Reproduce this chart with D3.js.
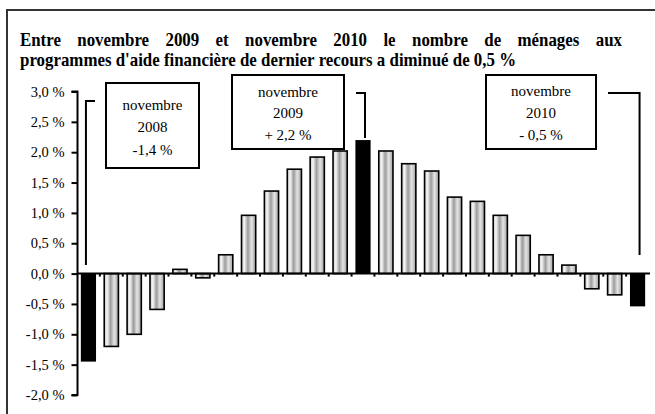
<!DOCTYPE html>
<html>
<head>
<meta charset="utf-8">
<script src="https://cdn.jsdelivr.net/npm/d3@7"></script>
<style>
  body { margin: 0; background: #fff; }
  svg { display: block; }
  svg text { font-family: "Liberation Serif", "Times New Roman", Times, "DejaVu Serif", serif !important; fill: #000; }
</style>
</head>
<body>
<svg id="chart" width="655" height="414" font-family="Liberation Serif, DejaVu Serif, serif"></svg>
<script>
// data
const months = ["nov. 2008", "déc. 2008", "janv. 2009", "févr. 2009", "mars 2009", "avr. 2009",
  "mai 2009", "juin 2009", "juil. 2009", "août 2009", "sept. 2009", "oct. 2009", "nov. 2009",
  "déc. 2009", "janv. 2010", "févr. 2010", "mars 2010", "avr. 2010", "mai 2010", "juin 2010",
  "juil. 2010", "août 2010", "sept. 2010", "oct. 2010", "nov. 2010"];
const values = [-1.45, -1.2, -1.0, -0.59, 0.07, -0.07, 0.31, 0.96, 1.36, 1.72, 1.92, 2.02, 2.2,
  2.02, 1.81, 1.69, 1.26, 1.19, 0.96, 0.63, 0.31, 0.14, -0.25, -0.35, -0.54];
const highlighted = ["nov. 2008", "nov. 2009", "nov. 2010"];
const yTicks = [-2, -1.5, -1, -0.5, 0, 0.5, 1, 1.5, 2, 2.5, 3];
const titleLines = ["Entre novembre 2009 et novembre 2010 le nombre de ménages aux",
  "programmes d'aide financière de dernier recours a diminué de 0,5 %"];
const noteMonths = ["nov. 2008", "nov. 2009", "nov. 2010"];
const noteTexts = [["novembre", "2008", "-1,4 %"], ["novembre", "2009", "+ 2,2 %"], ["novembre", "2010", "- 0,5 %"]];

const svg = d3.select("#chart");

// frame (cut off at right / bottom like the source)
svg.append("rect").attr("x", 7).attr("y", 10).attr("width", 700).attr("height", 450)
  .attr("fill", "none").attr("stroke", "#333").attr("stroke-width", 2);

const x = d3.scaleBand().domain(months).range([77, 649]).paddingInner(0.38).paddingOuter(0.19);
const y = d3.scaleLinear().domain([-2, 3]).range([395, 91.5]);

// gradient for the grey bars
const grad = svg.append("defs").append("linearGradient").attr("id", "cyl")
  .attr("x1", "0%").attr("x2", "100%").attr("y1", "0%").attr("y2", "0%");
[[0, "#c4c4c4"], [0.2, "#f6f6f6"], [0.45, "#9c9c9c"], [0.7, "#e4e4e4"], [1, "#a0a0a0"]]
  .forEach(s => grad.append("stop").attr("offset", s[0]).attr("stop-color", s[1]));

// title, justified
const TS = 19;
function fitWords(str, x0, x1, baseline, k, justify) {
  const words = str.split(" ");
  const tmp = svg.append("g").attr("font-weight", "bold").attr("font-size", TS);
  const w = words.map(wd => {
    const t = tmp.append("text").text(wd);
    const l = t.node().getComputedTextLength();
    t.remove();
    return l;
  });
  const sp = tmp.append("text").text("a a").node().getComputedTextLength() -
    tmp.append("text").text("aa").node().getComputedTextLength();
  tmp.remove();
  const total = d3.sum(w);
  if (k == null) k = (x1 - x0) / (total + sp * (words.length - 1));
  const gap = justify ? ((x1 - x0) - total * k) / (words.length - 1) : sp * k;
  let cx = x0;
  const g = svg.append("g").attr("font-weight", "bold").attr("font-size", TS);
  words.forEach((wd, i) => {
    g.append("text").attr("x", cx).attr("y", baseline).text(wd)
      .attr("textLength", w[i] * k).attr("lengthAdjust", "spacingAndGlyphs");
    cx += w[i] * k + gap;
  });
  return k;
}
const k = fitWords(titleLines[1], 20, 516, 66, null, false);
fitWords(titleLines[0], 20, 622, 46, k, true);

// y axis
const yAxis = svg.append("g").attr("transform", "translate(77.5,0)")
  .call(d3.axisLeft(y).tickValues(yTicks).tickSize(6).tickPadding(7)
    .tickFormat(d => d3.format(".1f")(d).replace(".", ",").replace("−", "-") + " %"));
yAxis.attr("font-family", null);
yAxis.selectAll("path, line").attr("stroke", "#000").attr("stroke-width", 2);
yAxis.select("path").attr("d", `M-6,${y(3)}H0V${y(-2)}H-6`);
yAxis.selectAll("text").attr("font-size", 14.5);

// bars
svg.append("g").selectAll("rect").data(months).join("rect")
  .attr("x", d => x(d) + (highlighted.includes(d) ? -0.5 : 0))
  .attr("width", d => x.bandwidth() + (highlighted.includes(d) ? 1 : 0))
  .attr("y", (d, i) => y(Math.max(0, values[i])))
  .attr("height", (d, i) => Math.abs(y(values[i]) - y(0)))
  .attr("fill", d => highlighted.includes(d) ? "#000" : "url(#cyl)")
  .attr("stroke", "#000").attr("stroke-width", d => highlighted.includes(d) ? 0 : 1.6);

// x axis at zero with small ticks between the bars
svg.append("line").attr("x1", 77).attr("x2", 650).attr("y1", y(0)).attr("y2", y(0))
  .attr("stroke", "#000").attr("stroke-width", 2);
svg.append("g").selectAll("line").data(months.slice(1)).join("line")
  .attr("x1", d => x(d) - x.step() * x.paddingInner() / 2)
  .attr("x2", d => x(d) - x.step() * x.paddingInner() / 2)
  .attr("y1", y(0)).attr("y2", y(0) + 3)
  .attr("stroke", "#000").attr("stroke-width", 2);

// notes
const boxes = [
  { x: 106, y: 83, w: 93, h: 85, ty: [105, 127, 150], lineY: 101, endY: 265, side: "left" },
  { x: 232, y: 75, w: 112, h: 74, ty: [92, 113, 135], lineY: 93, endY: 138, side: "right" },
  { x: 486, y: 75, w: 110, h: 74, ty: [91, 113, 135], lineY: 93, endY: 255, side: "right" }
];
noteMonths.forEach((m, i) => {
  const b = boxes[i];
  const g = svg.append("g");
  g.append("rect").attr("x", b.x).attr("y", b.y).attr("width", b.w).attr("height", b.h)
    .attr("fill", "#fff").attr("stroke", "#000").attr("stroke-width", 2);
  noteTexts[i].forEach((t, j) => {
    g.append("text").attr("x", b.x + b.w / 2).attr("y", b.ty[j]).attr("dy", "0.35em")
      .attr("text-anchor", "middle").attr("font-size", 15).text(t);
  });
  const cx = x(m) + x.bandwidth() / 2 + (b.side === "left" ? -2.5 : 2);
  const sx = b.side === "left" ? b.x - 11 : b.x + b.w + 12;
  g.append("path").attr("d", `M${sx},${b.lineY}H${cx}V${b.endY}`)
    .attr("fill", "none").attr("stroke", "#000").attr("stroke-width", 2);
});
</script>
</body>
</html>
